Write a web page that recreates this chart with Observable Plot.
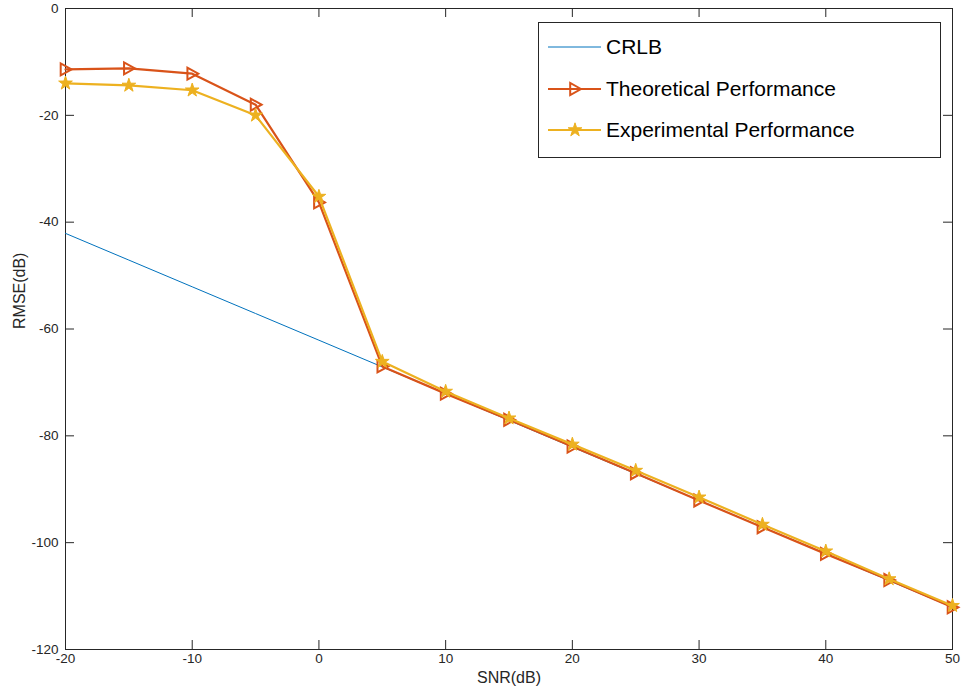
<!DOCTYPE html>
<html><head><meta charset="utf-8">
<script src="https://cdn.jsdelivr.net/npm/d3@7"></script>
<script src="https://cdn.jsdelivr.net/npm/@observablehq/plot@0.6"></script>
<style>
body{margin:0;background:#fff;}
#wrap{position:relative;width:962px;height:693px;}
#legend{position:absolute;left:0;top:0;pointer-events:none;}
</style>
</head><body><div id="wrap"></div>
<script>
const snr = [-20, -15, -10, -5, 0, 5, 10, 15, 20, 25, 30, 35, 40, 45, 50];
const crlb = [-42.1, -47.1, -52.1, -57.1, -62.1, -67.1, -72.1, -77.1, -82.1, -87.1, -92.1, -97.1, -102.1, -107.1, -112.1];
const theoretical = [-11.4, -11.2, -12.2, -18.0, -36.3, -67.0, -72.1, -77.0, -82.0, -87.0, -92.1, -97.1, -102.1, -107.0, -112.1];
const experimental = [-14.0, -14.4, -15.3, -20.0, -35.2, -66.1, -71.7, -76.7, -81.6, -86.5, -91.5, -96.6, -101.6, -106.8, -111.8];
const xTicks = [-20, -10, 0, 10, 20, 30, 40, 50];
const yTicks = [0, -20, -40, -60, -80, -100, -120];
const seriesNames = ["CRLB", "Theoretical Performance", "Experimental Performance"];
const colors = ["#0072BD", "#D95319", "#EDB120"];
const xLabel = "SNR(dB)";
const yLabel = "RMSE(dB)";

const data = snr.map((s, i) => ({snr: s, crlb: crlb[i], theo: theoretical[i], expt: experimental[i]}));

const triRight = {
  draw(ctx, size) {
    const r = Math.sqrt(size / Math.PI);
    ctx.moveTo(r, 0);
    ctx.lineTo(-r * 0.8, -r);
    ctx.lineTo(-r * 0.8, r);
    ctx.closePath();
  }
};

const axisColor = "#262626";
const font = "'Liberation Sans', Arial, Helvetica, sans-serif";
const W = 962, H = 693, mL = 65, mR = 10, mT = 8, mB = 44;
const pw = W - mL - mR, ph = H - mT - mB, tl = 9;

const chart = Plot.plot({
  width: W, height: H,
  marginLeft: mL, marginRight: mR, marginTop: mT, marginBottom: mB,
  x: {domain: [-20, 50], axis: null},
  y: {domain: [-120, 0], axis: null},
  style: {fontFamily: font, color: axisColor, background: "#fff"},
  marks: [
    Plot.frame({stroke: axisColor, strokeWidth: 1}),
    Plot.tickX(xTicks, {x: d => d, insetTop: ph - tl, stroke: axisColor}),
    Plot.tickX(xTicks, {x: d => d, insetBottom: ph - tl, stroke: axisColor}),
    Plot.tickY(yTicks, {y: d => d, insetRight: pw - tl, stroke: axisColor}),
    Plot.tickY(yTicks, {y: d => d, insetLeft: pw - tl, stroke: axisColor}),
    Plot.text(xTicks, {x: d => d, frameAnchor: "bottom", dy: 13.5, text: d => String(d), fontSize: 13.5, fill: axisColor}),
    Plot.text(yTicks, {y: d => d, frameAnchor: "left", dx: -7, textAnchor: "end", text: d => String(d), fontSize: 13.5, fill: axisColor}),
    Plot.text([xLabel], {frameAnchor: "bottom", dy: 33, text: d => d, fontSize: 16, fill: axisColor}),
    Plot.text([yLabel], {frameAnchor: "left", dx: -46, rotate: -90, text: d => d, fontSize: 16, fill: axisColor}),
    Plot.line(data, {x: "snr", y: "crlb", stroke: colors[0], strokeWidth: 1}),
    Plot.line(data, {x: "snr", y: "theo", stroke: colors[1], strokeWidth: 2.2}),
    Plot.dot(data, {x: "snr", y: "theo", symbol: triRight, r: 6, stroke: colors[1], fill: "none", strokeWidth: 2}),
    Plot.line(data, {x: "snr", y: "expt", stroke: colors[2], strokeWidth: 2.2}),
    Plot.dot(data, {x: "snr", y: "expt", symbol: "star", r: 4.3, fill: colors[2], stroke: colors[2], strokeWidth: 1})
  ]
});

const wrap = document.getElementById("wrap");
wrap.appendChild(chart);

// Legend
const lg = d3.select(wrap).append("svg").attr("id", "legend").attr("width", W).attr("height", H);
const bx = 538, by = 22, bw = 402, bh = 135;
lg.append("rect").attr("x", bx + 0.5).attr("y", by + 0.5).attr("width", bw).attr("height", bh)
  .attr("fill", "#fff").attr("stroke", axisColor).attr("stroke-width", 1);
const rowsY = [47, 89, 130];
seriesNames.forEach((name, i) => {
  const y = rowsY[i];
  lg.append("line").attr("x1", 548).attr("x2", 601).attr("y1", y).attr("y2", y)
    .attr("stroke", colors[i]).attr("stroke-width", i === 0 ? 1 : 2.2);
  if (i === 1) {
    lg.append("path").attr("transform", `translate(575,${y})`).attr("d", d3.symbol(triRight, 36 * Math.PI)())
      .attr("fill", "none").attr("stroke", colors[1]).attr("stroke-width", 2);
  }
  if (i === 2) {
    lg.append("path").attr("transform", `translate(575,${y})`).attr("d", d3.symbol(d3.symbolStar, 4.3 * 4.3 * Math.PI)())
      .attr("fill", colors[2]).attr("stroke", colors[2]);
  }
  lg.append("text").attr("x", 606).attr("y", y).attr("dy", "0.35em")
    .attr("font-family", font).attr("font-size", 21)
    .attr("fill", "#000").text(name);
});
</script>
</body></html>
